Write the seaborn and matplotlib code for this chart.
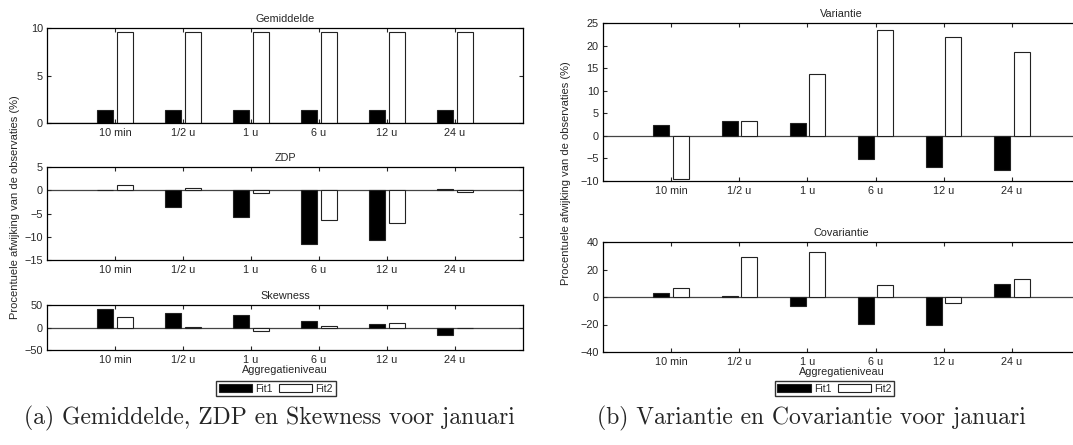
import numpy as np
import pandas as pd
import matplotlib
matplotlib.use("Agg")
import matplotlib.pyplot as plt
from matplotlib.patches import Patch
import seaborn as sns

# Aggregation levels and the two fitted models
niveaus = ["10 min", "1/2 u", "1 u", "6 u", "12 u", "24 u"]
fits = ["Fit1", "Fit2"]

# Percentage deviation from the observations (%)
gem_fit1 = [1.4, 1.4, 1.4, 1.4, 1.4, 1.4]
gem_fit2 = [9.6, 9.6, 9.6, 9.6, 9.6, 9.6]

zdp_fit1 = [0.1, -3.5, -5.8, -11.5, -10.8, 0.2]
zdp_fit2 = [1.05, 0.5, -0.6, -6.3, -7.0, -0.3]

skew_fit1 = [42, 33, 27, 14, 7.5, -16]
skew_fit2 = [22.5, 1.0, -8, 3, 11, -1.5]

var_fit1 = [2.4, 3.2, 2.8, -5.1, -7.0, -7.5]
var_fit2 = [-9.5, 3.4, 13.6, 23.4, 21.8, 18.5]

cov_fit1 = [2.7, 0.5, -6.6, -19.8, -20.5, 9.8]
cov_fit2 = [6.6, 28.8, 32.4, 9.0, -4.2, 13.2]

sns.set_theme(style="ticks")
plt.rcParams["font.family"] = ["Liberation Sans", "DejaVu Sans"]
plt.rcParams.update({
    "font.size": 8,
    "axes.linewidth": 0.9,
    "axes.edgecolor": "black",
    "xtick.direction": "in",
    "ytick.direction": "in",
    "xtick.top": True,
    "ytick.right": True,
    "xtick.major.size": 3,
    "ytick.major.size": 3,
    "xtick.major.width": 0.8,
    "ytick.major.width": 0.8,
    "xtick.labelsize": 7.8,
    "ytick.labelsize": 7.8,
    "axes.titlesize": 7.8,
    "axes.labelsize": 7.8,
})

W, H = 1073, 445
fig = plt.figure(figsize=(W / 100, H / 100), dpi=100)


def add_axes(left, top, right, bottom):
    return fig.add_axes([left / W, 1 - bottom / H, (right - left) / W, (bottom - top) / H])


def bars(ax, v1, v2, title, ylim, yticks):
    df = pd.DataFrame({
        "niveau": niveaus * 2,
        "waarde": list(v1) + list(v2),
        "fit": [fits[0]] * len(niveaus) + [fits[1]] * len(niveaus),
    })
    sns.barplot(data=df, x="niveau", y="waarde", hue="fit", order=niveaus,
                hue_order=fits, palette=["black", "white"], saturation=1,
                width=0.57, gap=0.18, edgecolor="#222222", linewidth=0.8,
                errorbar=None, legend=False, ax=ax)
    ax.axhline(0, color="#444444", lw=0.9, zorder=0.5)
    ax.set_xlim(-1, 6)
    ax.set_ylim(*ylim)
    ax.set_yticks(yticks)
    ax.set_yticklabels([str(t).replace("-", "\u2212") for t in yticks])
    ax.set_xlabel("")
    ax.set_ylabel("")
    ax.set_title(title, pad=4.5)
    ax.tick_params(axis="x", pad=3.5)
    ax.tick_params(axis="y", pad=3)
    for s in ax.spines.values():
        s.set_visible(True)
        s.set_color("black")


def legend(ax, cx, cy):
    handles = [Patch(facecolor="black", edgecolor="#222222", lw=0.8, label="Fit1"),
               Patch(facecolor="white", edgecolor="#222222", lw=0.8, label="Fit2")]
    leg = ax.legend(handles=handles, loc="center", bbox_to_anchor=(cx / W, 1 - cy / H),
                    bbox_transform=fig.transFigure,
                    ncol=2, frameon=True, fancybox=False, handlelength=3.2,
                    handleheight=0.9, handletextpad=0.3, columnspacing=0.6,
                    borderpad=0.25, borderaxespad=0, fontsize=7.5)
    leg.get_frame().set_edgecolor("black")
    leg.get_frame().set_linewidth(1.0)


# Left panel: mean, ZDP and skewness
ax_gem = add_axes(47, 28, 523, 123)
bars(ax_gem, gem_fit1, gem_fit2, "Gemiddelde", (0, 10), [0, 5, 10])

ax_zdp = add_axes(47, 167, 523, 260)
bars(ax_zdp, zdp_fit1, zdp_fit2, "ZDP", (-15, 5), [-15, -10, -5, 0, 5])

ax_skew = add_axes(47, 305, 523, 350)
bars(ax_skew, skew_fit1, skew_fit2, "Skewness", (-50, 50), [-50, 0, 50])
ax_skew.set_xlabel("Aggregatieniveau", labelpad=0)
legend(ax_skew, 276, 388.5)

# Right panel: variance and covariance
ax_var = add_axes(603, 23, 1080, 181)
bars(ax_var, var_fit1, var_fit2, "Variantie", (-10, 25), [-10, -5, 0, 5, 10, 15, 20, 25])

ax_cov = add_axes(603, 242, 1080, 352)
bars(ax_cov, cov_fit1, cov_fit2, "Covariantie", (-40, 40), [-40, -20, 0, 20, 40])
ax_cov.set_xlabel("Aggregatieniveau", labelpad=0)
legend(ax_cov, 834.5, 388.5)

ylab = "Procentuele afwijking van de observaties (%)"
fig.text(15 / W, 1 - 207 / H, ylab, rotation=90, ha="center", va="center", fontsize=8)
fig.text(566 / W, 1 - 173 / H, ylab, rotation=90, ha="center", va="center", fontsize=8)

fig.text(269 / W, 1 - 418 / H, "(a) Gemiddelde, ZDP en Skewness voor januari",
         family="cmr10", fontsize=17, ha="center", va="center")
fig.text(811 / W, 1 - 418 / H, "(b) Variantie en Covariantie voor januari",
         family="cmr10", fontsize=17, ha="center", va="center")

fig.savefig("out.png", dpi=100, facecolor="white")
